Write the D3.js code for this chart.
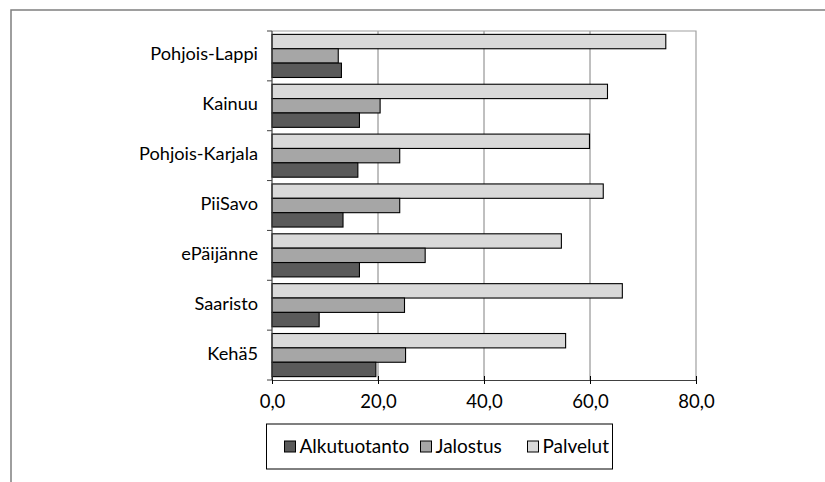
<!DOCTYPE html>
<html><head><meta charset="utf-8">
<script src="https://cdn.jsdelivr.net/npm/d3@7"></script>
<style>body{margin:0;background:#fff}svg{display:block}text{font-family:Lato,"Open Sans",sans-serif;fill:#000}</style>
</head><body>
<svg id="c" width="825" height="482"></svg>
<script>
const categories = ["Pohjois-Lappi","Kainuu","Pohjois-Karjala","PiiSavo","ePäijänne","Saaristo","Kehä5"];
const seriesNames = ["Palvelut","Jalostus","Alkutuotanto"];
const palvelut     = [74.3, 63.3, 59.9, 62.5, 54.6, 66.1, 55.4];
const jalostus     = [12.5, 20.4, 24.1, 24.1, 28.9, 25.0, 25.2];
const alkutuotanto = [13.1, 16.5, 16.2, 13.4, 16.5, 8.9, 19.6];
const xTicks = [0, 20, 40, 60, 80];
const legendOrder = ["Alkutuotanto","Jalostus","Palvelut"];
const colors = {Palvelut:"#d9d9d9", Jalostus:"#a6a6a6", Alkutuotanto:"#5a5a5a"};
const values = {Palvelut:palvelut, Jalostus:jalostus, Alkutuotanto:alkutuotanto};

const svg = d3.select("#c");
const L = 272, R = 696, T = 31, B = 380;

// outer border
svg.append("rect").attr("x",11).attr("y",10).attr("width",860).attr("height",520)
  .attr("fill","none").attr("stroke","#7f7f7f").attr("stroke-width",1.5);

const x = d3.scaleLinear().domain([0,80]).range([L,R]);
const y = d3.scaleBand().domain(categories).range([T,B]).paddingInner(0).paddingOuter(0);
const ys = d3.scaleBand().domain(seriesNames).range([0,y.bandwidth()]).paddingInner(0).paddingOuter(0.235);

// gridlines
svg.append("g").selectAll("line").data(xTicks.filter(d=>d>0&&d<80)).join("line")
  .attr("x1",d=>x(d)).attr("x2",d=>x(d)).attr("y1",T).attr("y2",B)
  .attr("stroke","#808080").attr("stroke-width",1);
// plot area top/right border
svg.append("path").attr("d",`M${L},${T}H${R}V${B}`).attr("fill","none")
  .attr("stroke","#a0a0a0").attr("stroke-width",1.2);

// bars
const g = svg.append("g");
seriesNames.forEach(s=>{
  g.append("g").selectAll("rect").data(categories).join("rect")
    .attr("x",x(0)).attr("y",(d)=>y(d)+ys(s))
    .attr("width",(d,i)=>x(values[s][i])-x(0)).attr("height",ys.bandwidth())
    .attr("fill",colors[s]).attr("stroke","#000").attr("stroke-width",1.1);
});

// axes
const xAxis = d3.axisBottom(x).tickValues(xTicks).tickFormat(d=>d3.format(".1f")(d).replace(".",","))
  .tickSizeInner(4).tickSizeOuter(0).tickPadding(11);
const gx = svg.append("g").attr("transform",`translate(0,${B})`).call(xAxis);
gx.select(".domain").attr("stroke","#404040").attr("stroke-width",1.2);
gx.selectAll(".tick line").attr("stroke","#000").attr("y1",-4).attr("y2",4);
gx.selectAll("text").style("font-size","18.5px").attr("fill","#000");

const yEdges = d3.range(categories.length+1).map(i=>T+i*y.step());
svg.append("line").attr("x1",L).attr("x2",L).attr("y1",T).attr("y2",B).attr("stroke","#404040").attr("stroke-width",1.2);
svg.append("g").selectAll("line").data(yEdges).join("line")
  .attr("x1",L-5).attr("x2",L).attr("y1",d=>d).attr("y2",d=>d).attr("stroke","#404040");
svg.append("g").selectAll("text").data(categories).join("text")
  .attr("x",258).attr("y",d=>y(d)+y.bandwidth()/2).attr("dy","0.25em")
  .attr("text-anchor","end").style("font-size","18.2px").text(d=>d);

// legend
svg.append("rect").attr("x",266.5).attr("y",424).attr("width",346).attr("height",45)
  .attr("fill","#fff").attr("stroke","#000").attr("stroke-width",1);
const legX = {Alkutuotanto:284.5, Jalostus:420.5, Palvelut:527.5};
const lg = svg.append("g").selectAll("g").data(legendOrder).join("g")
  .attr("transform",d=>`translate(${legX[d]},441)`);
lg.append("rect").attr("width",11).attr("height",11).attr("fill",d=>colors[d]).attr("stroke","#000");
lg.append("text").attr("x",15).attr("y",5.5).attr("dy","0.35em").style("font-size","19px").text(d=>d);
</script>
</body></html>
